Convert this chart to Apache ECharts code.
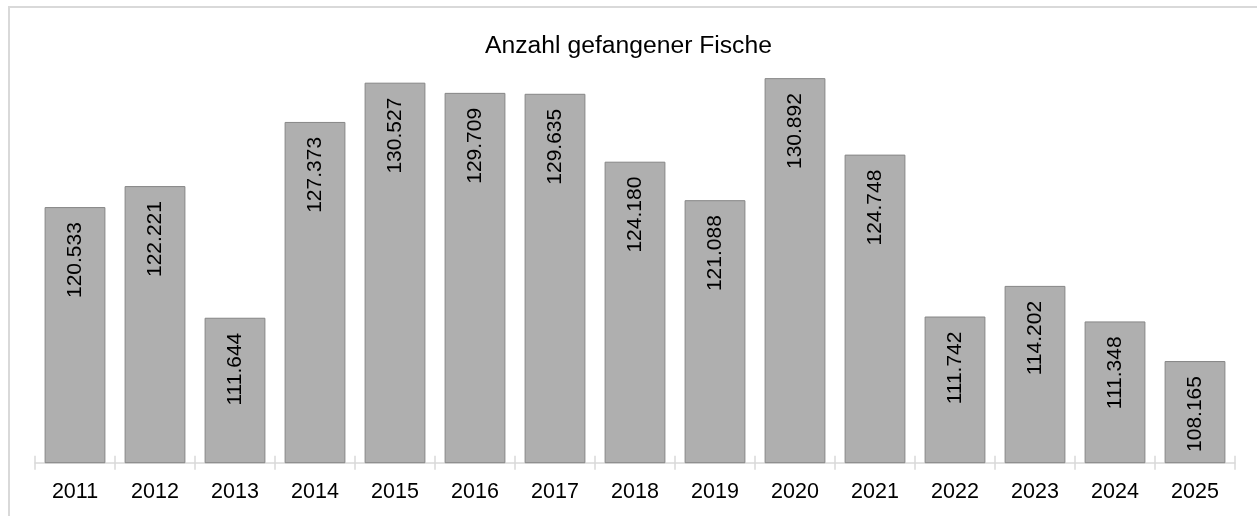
<!DOCTYPE html>
<html>
<head>
<meta charset="utf-8">
<script src="https://cdn.jsdelivr.net/npm/echarts@6/dist/echarts.min.js"></script>
<style>html,body{margin:0;padding:0;background:#fff;}#c{width:1257px;height:516px;}</style>
</head>
<body>
<div id="c"></div>
<script>
const title = 'Anzahl gefangener Fische';
const categories = ['2011','2012','2013','2014','2015','2016','2017','2018','2019','2020','2021','2022','2023','2024','2025'];
const values = [120533,122221,111644,127373,130527,129709,129635,124180,121088,130892,124748,111742,114202,111348,108165];
const yMin = 100000, yMax = 135000;

function fmt(v){ return String(v).replace(/\B(?=(\d{3})+(?!\d))/g, '.'); }
const FONT = '"Liberation Sans", Arial, sans-serif';
const chart = echarts.init(document.getElementById('c'), null, {renderer:'canvas'});
chart.setOption({
  animation:false,
  backgroundColor:'#fff',
  title:{text:title,left:'center',top:29,textStyle:{fontFamily:FONT,fontSize:24.7,fontWeight:'normal',color:'#000'}},
  graphic:[{type:'rect',shape:{x:9,y:7,width:1300,height:600},style:{fill:'none',stroke:'#d9d9d9',lineWidth:2},silent:true,z:-1}],
  grid:{left:35,right:22,top:27,bottom:53.3,containLabel:false},
  xAxis:[{
    type:'category',data:categories,
    axisLine:{show:true,lineStyle:{color:'#d9d9d9',width:1.5}},
    axisTick:{show:true,length:7,lineStyle:{color:'#d9d9d9',width:1.5}},
    axisLabel:{margin:18,fontFamily:FONT,fontSize:21.5,color:'#000'}
  },{
    type:'category',data:categories,position:'bottom',
    axisLine:{show:false},
    axisTick:{show:true,inside:true,length:7,lineStyle:{color:'#d9d9d9',width:1.5}},
    axisLabel:{show:false}
  }],
  yAxis:{type:'value',min:yMin,max:yMax,show:false,splitLine:{show:false}},
  series:[{
    type:'bar',data:values,barWidth:'76%',
    itemStyle:{color:'#afafaf',borderColor:'#868686',borderWidth:1},
    label:{show:true,position:'insideTop',rotate:90,align:'right',verticalAlign:'middle',distance:15,
      formatter:p=>fmt(p.value),fontFamily:FONT,fontSize:21,color:'#000'}
  }]
});
</script>
</body>
</html>
